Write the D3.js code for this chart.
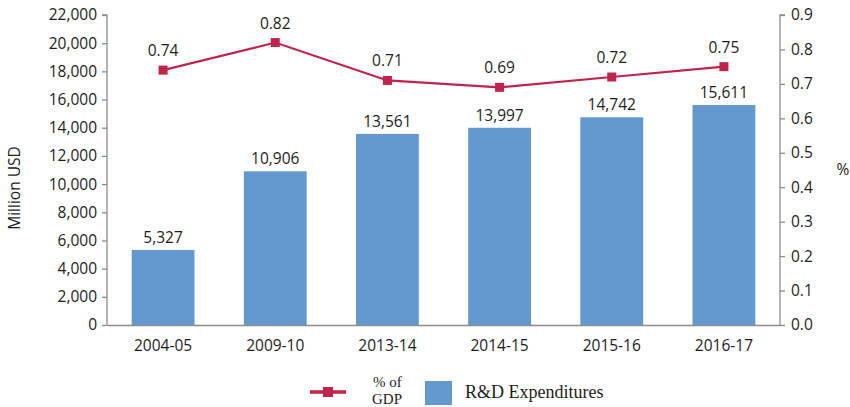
<!DOCTYPE html>
<html>
<head>
<meta charset="utf-8">
<script src="https://cdn.jsdelivr.net/npm/d3@7"></script>
<style>
  body { margin: 0; background: #fff; }
  svg { display: block; }
</style>
</head>
<body>
<svg width="850" height="407"></svg>
<script>
// data
const years = ["2004-05", "2009-10", "2013-14", "2014-15", "2015-16", "2016-17"];
const spending = [5327, 10906, 13561, 13997, 14742, 15611];
const gdpShare = [0.74, 0.82, 0.71, 0.69, 0.72, 0.75];
const leftTicks = [0, 2000, 4000, 6000, 8000, 10000, 12000, 14000, 16000, 18000, 20000, 22000];
const rightTicks = [0, 0.1, 0.2, 0.3, 0.4, 0.5, 0.6, 0.7, 0.8, 0.9];

const barColor = "#6399cf";
const lineColor = "#c1234a";
const axisColor = "#8c8c8c";
const textColor = "#1e1e1e";
const font = "'Open Sans', 'Noto Sans', sans-serif";

const margin = {top: 15, right: 70, bottom: 82, left: 107},
  width = 850 - margin.left - margin.right,
  height = 407 - margin.top - margin.bottom;

const svg = d3.select("svg")
  .append("g")
  .attr("transform", `translate(${margin.left}, ${margin.top})`);

const x = d3.scaleBand()
  .domain(years)
  .range([0, width])
  .paddingInner(0.44)
  .paddingOuter(0.22);

const y = d3.scaleLinear().domain([0, 22000]).range([height, 0]);
const y2 = d3.scaleLinear().domain([0, 0.9]).range([height, 0]);

// left axis
const left = svg.append("g")
  .call(d3.axisLeft(y).tickValues(leftTicks).tickSize(5).tickPadding(5)
    .tickFormat(d3.format(",")));
// right axis
const right = svg.append("g")
  .attr("transform", `translate(${width}, 0)`)
  .call(d3.axisRight(y2).tickValues(rightTicks).tickSize(5).tickPadding(6)
    .tickFormat(d3.format(".1f")));
// bottom axis
const bottom = svg.append("g")
  .attr("transform", `translate(0, ${height})`)
  .call(d3.axisBottom(x).tickSize(0).tickPadding(15));

[left, right, bottom].forEach(g => {
  g.select(".domain").attr("stroke", axisColor).attr("stroke-width", 1.3);
  g.selectAll(".tick line").attr("stroke", axisColor).attr("stroke-width", 1.3);
  g.selectAll(".tick text")
    .attr("font-family", font)
    .attr("font-size", "15.5px")
    .attr("fill", textColor);
});
left.select(".domain").attr("d", `M-5,0H0V${height}`);
right.select(".domain").attr("d", `M5,0H0V${height}`);

// bars
const data = years.map((yr, i) => ({yr: yr, v: spending[i], p: gdpShare[i]}));

svg.selectAll("rect.bar")
  .data(data)
  .join("rect")
  .attr("class", "bar")
  .attr("x", d => x(d.yr))
  .attr("width", x.bandwidth())
  .attr("y", d => y(d.v))
  .attr("height", d => height - y(d.v))
  .attr("fill", barColor);

svg.selectAll("text.barlab")
  .data(data)
  .join("text")
  .attr("class", "barlab")
  .attr("x", d => x(d.yr) + x.bandwidth() / 2)
  .attr("y", d => y(d.v) - 7)
  .attr("text-anchor", "middle")
  .attr("font-family", font)
  .attr("font-size", "15.5px")
  .attr("fill", textColor)
  .text(d => d3.format(",")(d.v));

// % of GDP line
const line = d3.line()
  .x(d => x(d.yr) + x.bandwidth() / 2)
  .y(d => y2(d.p));

svg.append("path")
  .datum(data)
  .attr("d", line)
  .attr("fill", "none")
  .attr("stroke", lineColor)
  .attr("stroke-width", 2.2);

svg.selectAll("rect.mark")
  .data(data)
  .join("rect")
  .attr("class", "mark")
  .attr("x", d => x(d.yr) + x.bandwidth() / 2 - 4.5)
  .attr("y", d => y2(d.p) - 4.5)
  .attr("width", 9)
  .attr("height", 9)
  .attr("fill", lineColor);

svg.selectAll("text.pctlab")
  .data(data)
  .join("text")
  .attr("class", "pctlab")
  .attr("x", d => x(d.yr) + x.bandwidth() / 2)
  .attr("y", d => y2(d.p) - 14)
  .attr("text-anchor", "middle")
  .attr("font-family", font)
  .attr("font-size", "15.5px")
  .attr("fill", textColor)
  .text(d => d.p.toFixed(2));

// axis titles
svg.append("text")
  .attr("transform", `translate(${-87}, ${height / 2 + 18}) rotate(-90)`)
  .attr("text-anchor", "middle")
  .attr("font-family", font)
  .attr("font-size", "15.5px")
  .attr("fill", textColor)
  .text("Million USD");

svg.append("text")
  .attr("x", width + 63)
  .attr("y", height / 2 + 5)
  .attr("text-anchor", "middle")
  .attr("font-family", font)
  .attr("font-size", "15.5px")
  .attr("fill", textColor)
  .text("%");

// legend
const legend = d3.select("svg").append("g")
  .attr("transform", "translate(0, 392)");
legend.append("line")
  .attr("x1", 310).attr("x2", 346)
  .attr("stroke", lineColor).attr("stroke-width", 3.5);
legend.append("rect")
  .attr("x", 323).attr("y", -5).attr("width", 10).attr("height", 10)
  .attr("fill", lineColor);
const gdpText = legend.append("text")
  .attr("font-family", "'Liberation Serif', serif")
  .attr("font-size", "15px")
  .attr("fill", textColor);
gdpText.append("tspan").attr("x", 373).attr("y", -5).text("% of");
gdpText.append("tspan").attr("x", 372).attr("y", 12).text("GDP");
legend.append("rect")
  .attr("x", 425).attr("y", -11).attr("width", 27).attr("height", 24)
  .attr("fill", barColor);
legend.append("text")
  .attr("x", 465).attr("y", 6)
  .attr("font-family", "'Liberation Serif', serif")
  .attr("font-size", "18px")
  .attr("fill", textColor)
  .text("R&D Expenditures");
</script>
</body>
</html>
